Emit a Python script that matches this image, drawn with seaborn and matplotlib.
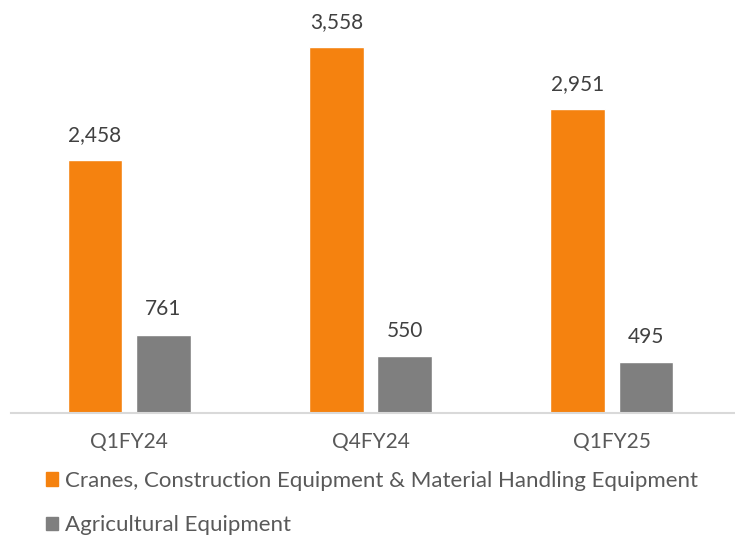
import matplotlib
matplotlib.use('Agg')
import matplotlib.pyplot as plt
import seaborn as sns
import pandas as pd

# data
quarters = ['Q1FY24', 'Q4FY24', 'Q1FY25']
cranes = [2458, 3558, 2951]
agri = [761, 550, 495]
series_names = ['Cranes, Construction Equipment & Material Handling Equipment',
                'Agricultural Equipment']

df = pd.DataFrame({
    'Quarter': quarters * 2,
    'Value': cranes + agri,
    'Segment': [series_names[0]] * 3 + [series_names[1]] * 3,
})

sns.set_style('white')
plt.rcParams['font.family'] = ['Lato', 'DejaVu Sans']

fig = plt.figure(figsize=(7.35, 5.35), dpi=100)
ax = fig.add_axes([11 / 735, 122 / 535, 724 / 735, 413 / 535])

sns.barplot(data=df, x='Quarter', y='Value', hue='Segment',
            palette=['#F5820F', '#7F7F7F'], width=0.567, gap=0.2,
            saturation=1, ax=ax, legend=False)

for cont in ax.containers:
    ax.bar_label(cont, fmt='{:,.0f}', padding=11, fontsize=15, color='#404040')

ax.set_ylim(0, 4015)
ax.set_xlim(-0.49, 2.51)
ax.set_xlabel('')
ax.set_ylabel('')
ax.set_yticks([])
ax.tick_params(axis='x', length=0, labelsize=15, labelcolor='#595959', pad=14)
for s in ['top', 'right', 'left']:
    ax.spines[s].set_visible(False)
ax.spines['bottom'].set_color('#D9D9D9')
ax.spines['bottom'].set_linewidth(1.5)

# legend below, stacked
handles = [plt.Rectangle((0, 0), 1, 1, color=c) for c in ['#F5820F', '#7F7F7F']]
fig.legend(handles, series_names, loc='upper left', bbox_to_anchor=(37 / 735, 1 - 462 / 535),
           frameon=False, fontsize=16, labelcolor='#595959',
           handlelength=0.55, handleheight=0.55, handletextpad=0.3, labelspacing=1.1,
           borderaxespad=0)

fig.savefig('out.png', dpi=100)
